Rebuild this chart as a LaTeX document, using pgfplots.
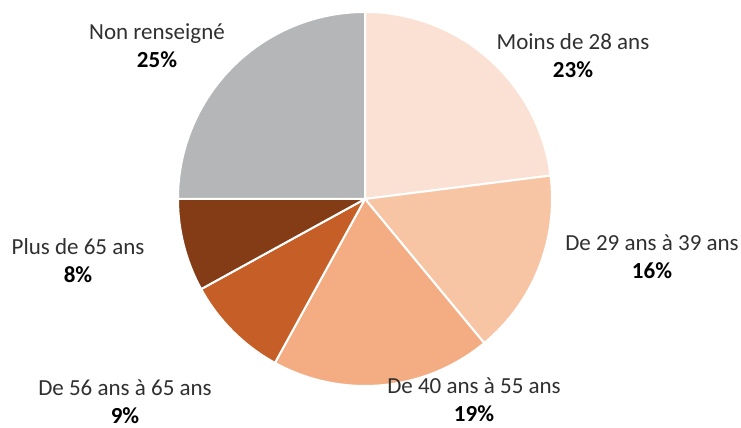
\documentclass[border=0pt]{standalone}
\usepackage{pgfplots}
\usepackage{pgfplotstable}
\pgfplotsset{compat=1.18}
\usepackage{fontspec}
\setmainfont{Carlito}

\definecolor{slice0}{HTML}{FBE1D3}
\definecolor{slice1}{HTML}{F8C5A4}
\definecolor{slice2}{HTML}{F4AD82}
\definecolor{slice3}{HTML}{C55F27}
\definecolor{slice4}{HTML}{843C17}
\definecolor{slice5}{HTML}{B4B6B8}
\definecolor{labelgray}{HTML}{303030}

% share of each age group, clockwise from 12 o'clock
\pgfplotstableread{
value
23
16
19
9
8
25
}\piedata

\begin{document}
\begin{tikzpicture}
\begin{axis}[
  hide axis, scale only axis, clip=false,
  x=0.5pt, y=0.5pt,
  xmin=0, xmax=741, ymin=0, ymax=428,
]
\pgfplotsextra{
  \gdef\cum{0}
  \pgfplotstableforeachcolumnelement{value}\of\piedata\as\v{%
    \pgfmathsetmacro\aa{90-3.6*\cum}%
    \pgfmathsetmacro\bb{90-3.6*(\cum+\v)}%
    \fill[slice\pgfplotstablerow, draw=white, line width=1pt, line join=round]
      (axis cs:365,229) -- ++(\aa:93.5pt) arc[start angle=\aa, end angle=\bb, radius=93.5pt] -- cycle;
    \pgfmathsetmacro\tmp{\cum+\v}%
    \xdef\cum{\tmp}%
  }
}
\tikzset{lbl/.style={align=center, font=\fontsize{11.5}{14}\selectfont, text=labelgray}}
\node[lbl] at (axis cs:573,372) {Moins de 28 ans\\\textbf{\color{black}23\%}};
\node[lbl] at (axis cs:652,171) {De 29 ans à 39 ans\\\textbf{\color{black}16\%}};
\node[lbl] at (axis cs:474,28) {De 40 ans à 55 ans\\\textbf{\color{black}19\%}};
\node[lbl] at (axis cs:125,26) {De 56 ans à 65 ans\\\textbf{\color{black}9\%}};
\node[lbl] at (axis cs:78,167) {Plus de 65 ans\\\textbf{\color{black}8\%}};
\node[lbl] at (axis cs:157,382) {Non renseigné\\\textbf{\color{black}25\%}};
\end{axis}
\pgfresetboundingbox
\useasboundingbox (0,0) rectangle (370.5pt,214pt);
\end{tikzpicture}
\end{document}
